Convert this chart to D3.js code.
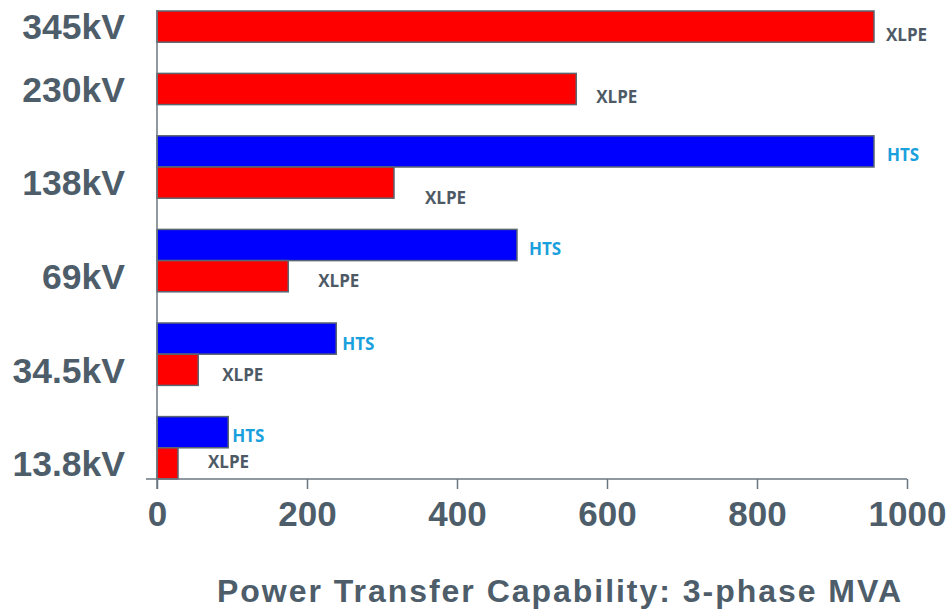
<!DOCTYPE html>
<html><head><meta charset="utf-8">
<script src="https://cdn.jsdelivr.net/npm/d3@7"></script>
<style>
html,body{margin:0;padding:0;background:#fff;}
svg{display:block;}
</style></head>
<body>
<svg id="chart" width="950" height="612"></svg>
<script>
// ---- data ----
const categories = ["345kV","230kV","138kV","69kV","34.5kV","13.8kV"];
const htsValues  = [null, null, 956, 480, 239, 95];
const xlpeValues = [956, 559, 316, 175, 55, 28];
const xTicks = [0, 200, 400, 600, 800, 1000];
const seriesNames = ["HTS", "XLPE"];
const axisTitle = "Power Transfer Capability: 3-phase MVA";

// ---- layout (label nudges, not data) ----
const htsNudge  = [null, null, [13,3], [12,4], [6,5], [4,4]];
const xlpeNudge = [[12,8], [20,8], [31,15], [30,5], [24,5], [30,-2]];

const svg = d3.select("#chart");
const textCol = "#4e5d6a";
const lineCol = "#6b7780";

const x = d3.scaleLinear().domain([0, 1000]).range([157, 907]);

// build slot list: each category -> optional HTS slot, XLPE slot; gap between categories
const slots = [];
categories.forEach((c, i) => {
  if (i > 0) slots.push("gap" + i);
  if (htsValues[i] != null) slots.push(c + "|HTS");
  slots.push(c + "|XLPE");
});
const y = d3.scaleBand().domain(slots).range([11, 479]).paddingInner(0).paddingOuter(0);

const bars = [];
categories.forEach((c, i) => {
  if (htsValues[i] != null) bars.push({cat: c, s: "HTS", v: htsValues[i], nudge: htsNudge[i]});
  bars.push({cat: c, s: "XLPE", v: xlpeValues[i], nudge: xlpeNudge[i]});
});

// bars
svg.append("g").selectAll("rect").data(bars).join("rect")
  .attr("x", x(0))
  .attr("y", d => y(d.cat + "|" + d.s))
  .attr("width", d => x(d.v) - x(0))
  .attr("height", y.bandwidth())
  .attr("fill", d => d.s === "HTS" ? "#0000ff" : "#ff0000")
  .attr("stroke", "#5a6670")
  .attr("stroke-width", 1.5);

// bar labels
svg.append("g").selectAll("text").data(bars).join("text")
  .attr("x", d => x(d.v) + d.nudge[0])
  .attr("y", d => y(d.cat + "|" + d.s) + y.bandwidth()/2 + d.nudge[1])
  .attr("dy", "0.36em")
  .attr("font-family", "'Open Sans', sans-serif")
  .attr("font-weight", "bold")
  .attr("font-size", 17)
  .attr("fill", d => d.s === "HTS" ? "#1aa0dc" : "#4d5a66")
  .text(d => d.s);

// x axis
const xAxis = d3.axisBottom(x).tickValues(xTicks).tickSize(10).tickPadding(12).tickFormat(d3.format("d"));
const gx = svg.append("g").attr("transform", "translate(0,479)").call(xAxis);
gx.select(".domain").remove();
gx.selectAll(".tick line").attr("stroke", lineCol).attr("stroke-width", 1.5);
gx.selectAll(".tick text")
  .attr("font-family", "'Liberation Sans', Arial, sans-serif")
  .attr("font-weight", "bold")
  .attr("font-size", 35)
  .attr("fill", textCol);
svg.append("line").attr("x1", 146).attr("x2", x(1000)).attr("y1", 479).attr("y2", 479)
  .attr("stroke", lineCol).attr("stroke-width", 1.5);

// y axis line
svg.append("line").attr("x1", x(0)).attr("x2", x(0)).attr("y1", 10).attr("y2", 489)
  .attr("stroke", lineCol).attr("stroke-width", 1.5);

// y category labels (centred on XLPE bar)
svg.append("g").selectAll("text").data(categories).join("text")
  .attr("x", 125)
  .attr("y", c => y(c + "|XLPE") + y.bandwidth()/2)
  .attr("dy", "0.36em")
  .attr("text-anchor", "end")
  .attr("font-family", "'Liberation Sans', Arial, sans-serif")
  .attr("font-weight", "bold")
  .attr("font-size", 35.5)
  .attr("fill", textCol)
  .text(c => c);

// axis title
svg.append("text")
  .attr("x", 217).attr("y", 602)
  .attr("font-family", "'Liberation Sans', Arial, sans-serif")
  .attr("font-weight", "bold")
  .attr("font-size", 32)
  .attr("fill", textCol)
  .attr("textLength", 684)
  .attr("lengthAdjust", "spacing")
  .text(axisTitle);
</script>
</body></html>
